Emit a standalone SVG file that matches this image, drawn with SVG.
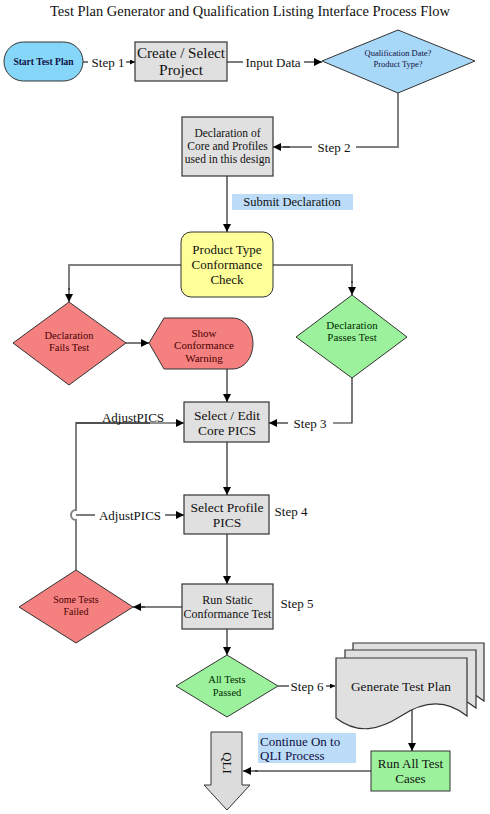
<svg xmlns="http://www.w3.org/2000/svg" width="490" height="814" viewBox="0 0 490 814">
<style>
text{font-family:"Liberation Serif","Times New Roman",serif;fill:#111}
.lbl{font-size:13px}
.gray{fill:#e0e0e0;stroke:#333;stroke-width:1.2}
.red{fill:#f58080;stroke:#333;stroke-width:1}
.green{fill:#9cf29c;stroke:#333;stroke-width:1}
.rt{fill:#4a0000}
.gt{fill:#002a00}
.bt{fill:#101040}
.ln{fill:none;stroke:#222;stroke-width:1.2}
.lg{fill:none;stroke:#808080;stroke-width:2}
.mid{text-anchor:middle}
</style>
<defs>
<marker id="ah" viewBox="0 0 10 10" refX="10" refY="5" markerWidth="10" markerHeight="8" markerUnits="userSpaceOnUse" orient="auto">
<path d="M0 0L10 5L0 10Z" fill="#000"/>
</marker>
<marker id="ahs" viewBox="0 0 10 10" refX="10" refY="5" markerWidth="7" markerHeight="5" markerUnits="userSpaceOnUse" orient="auto">
<path d="M0 0L10 5L0 10Z" fill="#000"/>
</marker>
</defs>
<rect width="490" height="814" fill="#fff"/>
<text x="250" y="16" class="mid" font-size="15" textLength="400" lengthAdjust="spacingAndGlyphs">Test Plan Generator and Qualification Listing Interface Process Flow</text>

<g id="connectors">
<path class="ln" d="M83 62H88"/>
<path class="ln" d="M126 62H135" marker-end="url(#ahs)"/>
<path class="ln" d="M227 62H243"/>
<path class="ln" d="M304 62H322" marker-end="url(#ah)"/>
<path class="lg" d="M398 93V147H356"/>
<path class="lg" d="M312 147H283"/>
<path class="ln" d="M290 147H273" marker-end="url(#ah)"/>
<path class="ln" d="M227 176V232" marker-end="url(#ah)"/>
<path class="lg" d="M181 265H69V290"/>
<path class="ln" d="M69 288V302" marker-end="url(#ah)"/>
<path class="lg" d="M273 265H352V283"/>
<path class="ln" d="M352 281V295" marker-end="url(#ah)"/>
<path class="ln" d="M126 343H149" marker-end="url(#ah)"/>
<path class="ln" d="M227 369V402" marker-end="url(#ah)"/>
<path class="ln" d="M352 378V423H333"/>
<path class="ln" d="M288 423H269" marker-end="url(#ah)"/>
<path class="lg" d="M76 570V520A5 5 0 0 1 76 510V423H150"/>
<path class="ln" d="M76 423H184" marker-end="url(#ah)"/>
<path class="ln" d="M227 442V495" marker-end="url(#ah)"/>
<path class="ln" d="M76 515H95"/>
<path class="ln" d="M165 515H184" marker-end="url(#ah)"/>
<path class="ln" d="M227 534V584" marker-end="url(#ah)"/>
<path class="lg" d="M182 607H140"/>
<path class="ln" d="M145 607H133" marker-end="url(#ah)"/>
<path class="ln" d="M227 629V655" marker-end="url(#ah)"/>
<path class="ln" d="M278 686H289"/>
<path class="ln" d="M326 686H335" marker-end="url(#ahs)"/>
<path class="ln" d="M412 710V751" marker-end="url(#ah)"/>
<path class="lg" d="M371 771H255"/>
<path class="ln" d="M258 771H243" marker-end="url(#ah)"/>
<text x="108" y="67" class="lbl mid">Step 1</text>
<text x="273" y="67" class="lbl mid">Input Data</text>
<text x="334" y="152" class="lbl mid">Step 2</text>
<rect x="232" y="194" width="121" height="16" fill="#bcdcf8"/>
<text x="292" y="206" class="mid" font-size="12.5">Submit Declaration</text>
<text x="310" y="428" class="lbl mid">Step 3</text>
<text x="133" y="422" class="lbl mid">AdjustPICS</text>
<text x="130" y="520" class="lbl mid">AdjustPICS</text>
<text x="291" y="516" class="lbl mid">Step 4</text>
<text x="297" y="608" class="lbl mid">Step 5</text>
<text x="307" y="691" class="lbl mid">Step 6</text>
<rect x="258" y="733" width="98" height="30" fill="#bcdcf8"/>
<text x="260" y="746" class="lbl bt">Continue On to</text>
<text x="260" y="760" class="lbl bt">QLI Process</text>
</g>

<g id="start">
<rect x="4" y="42" width="79" height="39" rx="19.5" fill="#86d6fa" stroke="#333" stroke-width="1"/>
<text x="43.5" y="65" class="mid bt" font-size="9.5" font-weight="bold">Start Test Plan</text>
</g>
<g id="create-project">
<rect x="135" y="42" width="92" height="39" class="gray"/>
<text x="181" y="58" class="mid" font-size="15.5" textLength="88" lengthAdjust="spacingAndGlyphs">Create / Select</text>
<text x="181" y="75" class="mid" font-size="15.5">Project</text>
</g>
<g id="qualification">
<path d="M398 30L475 61L398 93L322 61Z" fill="#a8d8f8" stroke="#333" stroke-width="1"/>
<text x="398" y="56" class="mid bt" font-size="8.5">Qualification Date?</text>
<text x="398" y="67" class="mid bt" font-size="8.5">Product Type?</text>
</g>
<g id="declaration">
<rect x="182" y="117" width="91" height="59" class="gray"/>
<text x="227.5" y="137" class="mid" font-size="11.5">Declaration of</text>
<text x="227.5" y="150" class="mid" font-size="11.5">Core and Profiles</text>
<text x="227.5" y="163" class="mid" font-size="11.5">used in this design</text>
</g>
<g id="product-check">
<rect x="181" y="232" width="92" height="65" rx="10" fill="#ffff99" stroke="#333" stroke-width="1"/>
<text x="227" y="254" class="mid" font-size="13">Product Type</text>
<text x="227" y="269" class="mid" font-size="13">Conformance</text>
<text x="227" y="284" class="mid" font-size="13">Check</text>
</g>
<g id="fails">
<path d="M69 302L126 343L69 385L13 343Z" class="red"/>
<text x="69" y="339" class="mid rt" font-size="10.5">Declaration</text>
<text x="69" y="351" class="mid rt" font-size="10.5">Fails Test</text>
</g>
<g id="warning">
<path d="M149 343L164 318H233A20 25.5 0 0 1 233 369H164Z" class="red"/>
<text x="204" y="337" class="mid rt" font-size="11">Show</text>
<text x="204" y="349" class="mid rt" font-size="11">Conformance</text>
<text x="204" y="362" class="mid rt" font-size="11">Warning</text>
</g>
<g id="passes">
<path d="M352 295L407 337L352 378L296 337Z" class="green"/>
<text x="352" y="329" class="mid gt" font-size="11">Declaration</text>
<text x="352" y="341" class="mid gt" font-size="11">Passes Test</text>
</g>
<g id="core-pics">
<rect x="184" y="402" width="85" height="40" class="gray"/>
<text x="227" y="420" class="mid" font-size="13.5">Select / Edit</text>
<text x="227" y="435" class="mid" font-size="13.5">Core PICS</text>
</g>
<g id="profile-pics">
<rect x="184" y="495" width="85" height="39" class="gray"/>
<text x="227" y="512" class="mid" font-size="13.5">Select Profile</text>
<text x="227" y="527" class="mid" font-size="13.5">PICS</text>
</g>
<g id="static-test">
<rect x="182" y="584" width="91" height="45" class="gray"/>
<text x="227.5" y="604" class="mid" font-size="12">Run Static</text>
<text x="227.5" y="618" class="mid" font-size="12">Conformance Test</text>
</g>
<g id="some-failed">
<path d="M76 570L133 607L76 643L19 607Z" class="red"/>
<text x="76" y="603" class="mid rt" font-size="10">Some Tests</text>
<text x="76" y="615" class="mid rt" font-size="10">Failed</text>
</g>
<g id="all-passed">
<path d="M227 655L278 686L227 717L176 686Z" class="green"/>
<text x="227" y="683" class="mid gt" font-size="10.5">All Tests</text>
<text x="227" y="696" class="mid gt" font-size="10.5">Passed</text>
</g>
<g id="test-plan">
<path d="M353 643H484V701C462 683 439 687 418 701C396 715 375 720 353 703Z" class="gray" stroke-width="1"/>
<path d="M345 650H476V708C454 690 431 694 410 708C388 722 367 727 345 710Z" class="gray" stroke-width="1"/>
<path d="M336 658H467V716C445 698 422 702 401 716C379 730 358 735 336 718Z" class="gray" stroke-width="1"/>
<text x="401" y="691" class="mid" font-size="13.3">Generate Test Plan</text>
</g>
<g id="run-all">
<rect x="371" y="751" width="79" height="40" fill="#9cf29c" stroke="#333" stroke-width="1"/>
<text x="410.5" y="768" class="mid" font-size="13">Run All Test</text>
<text x="410.5" y="783" class="mid" font-size="13">Cases</text>
</g>
<g id="qli">
<path d="M211 732H242V785H250L227 810L204 785H211Z" fill="#dcdcdc" stroke="#333" stroke-width="1"/>
<text x="0" y="0" transform="translate(223 763) rotate(90)" class="mid" font-size="13">QLI</text>
</g>
</svg>
